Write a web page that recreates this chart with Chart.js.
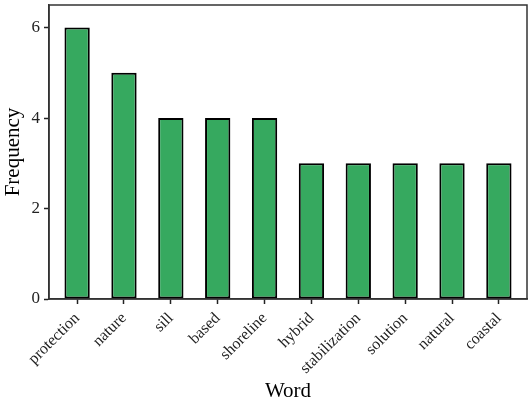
<!DOCTYPE html>
<html>
<head>
<meta charset="utf-8">
<script src="https://cdn.jsdelivr.net/npm/chart.js@4"></script>
<style>
  html, body { margin: 0; padding: 0; background: #fff; }
  canvas { display: block; }
</style>
</head>
<body>
<canvas id="word-chart" width="532" height="404"></canvas>
<script>
const words = ["protection", "nature", "sill", "based", "shoreline", "hybrid", "stabilization", "solution", "natural", "coastal"];
const frequencies = [6, 5, 4, 4, 4, 3, 3, 3, 3, 3];
const yTicks = [0, 2, 4, 6];

const FONT = "'Liberation Serif', 'DejaVu Serif', serif";

// full box around the plot panel
const panelBox = {
  id: "panelBox",
  afterDraw(chart) {
    const { ctx, chartArea: a } = chart;
    ctx.save();
    ctx.strokeStyle = "#333";
    ctx.lineWidth = 1.5;
    ctx.strokeRect(a.left, a.top, a.right - a.left, a.bottom - a.top);
    ctx.restore();
  },
};

const points = frequencies.map((v, i) => ({ x: i + 1, y: v }));

new Chart(document.getElementById("word-chart"), {
  type: "bar",
  data: {
    datasets: [
      {
        data: points,
        backgroundColor: "#36a95f",
        borderColor: "#000",
        borderWidth: 2,
        borderSkipped: false,
        barPercentage: 0.54,
        categoryPercentage: 1,
      },
    ],
  },
  options: {
    responsive: false,
    animation: false,
    maintainAspectRatio: false,
    layout: { padding: { top: 5, right: 5, left: 0, bottom: 0 } },
    plugins: { legend: { display: false }, tooltip: { enabled: false } },
    scales: {
      x: {
        type: "linear",
        min: 0.4,
        max: 10.6,
        offset: false,
        afterBuildTicks: (s) => {
          s.ticks = words.map((w, i) => ({ value: i + 1 }));
        },
        afterFit: (s) => {
          s.height = 105;
          s.paddingLeft = 0;
          s.paddingRight = 0;
        },
        ticks: {
          autoSkip: false,
          maxRotation: 45,
          minRotation: 45,
          color: "#222",
          padding: 5,
          font: { family: FONT, size: 16 },
          callback: (v) => words[Math.round(v) - 1],
        },
        grid: { offset: false, drawOnChartArea: false, drawTicks: true, tickLength: 5, tickColor: "#222", tickWidth: 1.5 },
        border: { color: "#333", width: 1.5 },
        title: { display: true, text: "Word", color: "#000", font: { family: FONT, size: 21 }, padding: { top: 2, bottom: 0 } },
      },
      y: {
        min: 0,
        max: 6.5,
        afterBuildTicks: (s) => {
          s.ticks = yTicks.map((v) => ({ value: v }));
        },
        afterFit: (s) => {
          s.width = 49;
          s.paddingTop = 0;
          s.paddingBottom = 0;
        },
        ticks: { color: "#222", padding: 4, font: { family: FONT, size: 17 } },
        grid: { drawOnChartArea: false, drawTicks: true, tickLength: 5, tickColor: "#222", tickWidth: 1.5 },
        border: { color: "#333", width: 1.5 },
        title: { display: true, text: "Frequency", color: "#000", font: { family: FONT, size: 21 }, padding: { top: 1, bottom: 0 } },
      },
    },
  },
  plugins: [panelBox],
});
</script>
</body>
</html>
